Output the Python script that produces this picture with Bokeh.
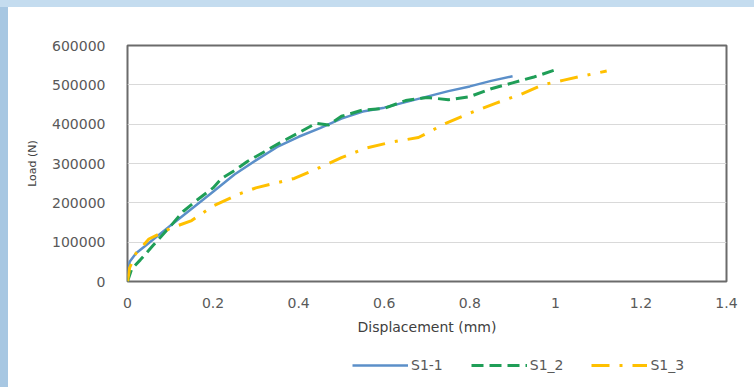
from bokeh.plotting import figure
from bokeh.models import Legend, LegendItem, FixedTicker
from bokeh.layouts import column
from bokeh.embed import file_html
from bokeh.resources import INLINE

# ---- data ----
s1_1_x = [0, 0.005, 0.02, 0.05, 0.1, 0.15, 0.2, 0.25, 0.3, 0.35, 0.4, 0.45, 0.5,
          0.55, 0.6, 0.65, 0.7, 0.75, 0.8, 0.85, 0.9]
s1_1_y = [0, 50000, 72000, 98000, 142000, 185000, 228000, 272000, 308000, 342000,
          368000, 390000, 414000, 432000, 442000, 456000, 470000, 484000, 496000,
          510000, 522000]

s1_2_x = [0, 0.01, 0.03, 0.06, 0.1, 0.13, 0.16, 0.2, 0.22, 0.25, 0.28, 0.32, 0.36,
          0.4, 0.44, 0.47, 0.5, 0.55, 0.6, 0.65, 0.7, 0.75, 0.8, 0.85, 0.9, 0.95, 1.0]
s1_2_y = [0, 32000, 55000, 92000, 140000, 178000, 205000, 238000, 262000, 282000,
          305000, 330000, 355000, 378000, 402000, 398000, 420000, 436000, 440000,
          460000, 468000, 462000, 470000, 490000, 505000, 520000, 538000]

s1_3_x = [0, 0.005, 0.02, 0.05, 0.1, 0.15, 0.2, 0.26, 0.3, 0.39, 0.45, 0.5, 0.56,
          0.62, 0.68, 0.74, 0.8, 0.86, 0.92, 0.97, 1.02, 1.07, 1.12]
s1_3_y = [0, 35000, 72000, 108000, 135000, 155000, 192000, 222000, 238000, 262000,
          290000, 315000, 340000, 355000, 366000, 400000, 428000, 453000, 476000,
          500000, 512000, 524000, 535000]

series_names = ["S1-1", "S1_2", "S1_3"]

x_ticks = [0, 0.2, 0.4, 0.6, 0.8, 1.0, 1.2, 1.4]
x_tick_labels = ["0", "0.2", "0.4", "0.6", "0.8", "1", "1.2", "1.4"]
y_ticks = [0, 100000, 200000, 300000, 400000, 500000, 600000]
y_tick_labels = ["0", "100000", "200000", "300000", "400000", "500000", "600000"]

FONT = "DejaVu Sans"
GRAY = "#595959"
styles_ = [dict(line_color="#5b8fc9", line_width=2.5),
           dict(line_color="#1f9e57", line_width=3, line_dash="12 6"),
           dict(line_color="#ffc000", line_width=3, line_dash="18 10 3 10")]
series = [(s1_1_x, s1_1_y), (s1_2_x, s1_2_y), (s1_3_x, s1_3_y)]

BG_TOP = ("linear-gradient(to bottom, #c4dcef 0px, #c4dcef 7px, transparent 7px), "
          "linear-gradient(to right, #a7c7e2 0px, #a7c7e2 8px, white 8px)")
BG_SIDE = "linear-gradient(to right, #a7c7e2 0px, #a7c7e2 8px, white 8px)"

p = figure(frame_width=599, frame_height=236, output_backend="svg", toolbar_location=None,
           x_range=(0, 1.4), y_range=(0, 600000),
           min_border_left=127, min_border_right=28, min_border_top=45,
           min_border_bottom=61,
           background_fill_color="white", border_fill_color=None,
           outline_line_color="#6b6b6b", outline_line_width=2)
p.styles = {"background": BG_TOP}

for (xs, ys), st in zip(series, styles_):
    p.line(xs, ys, **st)

for ax in (p.xaxis[0], p.yaxis[0]):
    ax.axis_line_color = None
    ax.major_tick_line_color = None
    ax.minor_tick_line_color = None
    ax.major_label_text_font = FONT
    ax.major_label_text_font_size = "14px"
    ax.major_label_text_color = GRAY
    ax.axis_label_text_font = FONT
    ax.axis_label_text_font_style = "normal"
    ax.axis_label_text_color = "#404040"

p.xaxis.ticker = FixedTicker(ticks=x_ticks)
p.xaxis.major_label_overrides = dict(zip(x_ticks, x_tick_labels))
p.yaxis.ticker = FixedTicker(ticks=y_ticks)
p.yaxis.major_label_overrides = dict(zip(y_ticks, y_tick_labels))
p.xaxis.major_label_standoff = 10
p.yaxis.major_label_standoff = 16
p.xaxis.axis_label = "Displacement (mm)"
p.xaxis.axis_label_text_font_size = "14px"
p.xaxis.axis_label_standoff = 8
p.yaxis.axis_label = "Load (N)"
p.yaxis.axis_label_text_font_size = "11px"
p.yaxis.axis_label_standoff = 10

p.xgrid.grid_line_color = None
p.ygrid.grid_line_color = "#d9d9d9"
p.ygrid.grid_line_width = 1

# legend strip below the chart (same frame geometry so the column aligns cleanly)
p2 = figure(frame_width=599, frame_height=45, output_backend="svg", toolbar_location=None,
            x_axis_type=None, y_axis_type=None, x_range=(10, 11), y_range=(10, 11),
            min_border_left=127, min_border_right=28, min_border_top=0,
            min_border_bottom=0, outline_line_color=None,
            background_fill_color="white", border_fill_color=None)
p2.styles = {"background": BG_SIDE}
p2.xgrid.grid_line_color = None
p2.ygrid.grid_line_color = None
items = []
for name, (xs, ys), st in zip(series_names, series, styles_):
    r = p2.line(xs, ys, **st)   # out of view; only its legend entry shows
    items.append(LegendItem(label=name, renderers=[r]))
legend = Legend(items=items, orientation="horizontal", location=(225, 14),
                glyph_width=56, glyph_height=14, label_standoff=3, spacing=28,
                label_text_font=FONT, label_text_font_size="14px",
                label_text_color=GRAY, border_line_color=None,
                background_fill_alpha=0, padding=0, margin=0)
p2.add_layout(legend, "center")

layout = column(p, p2, spacing=0)
open("out.html", "w").write(file_html(layout, INLINE))
